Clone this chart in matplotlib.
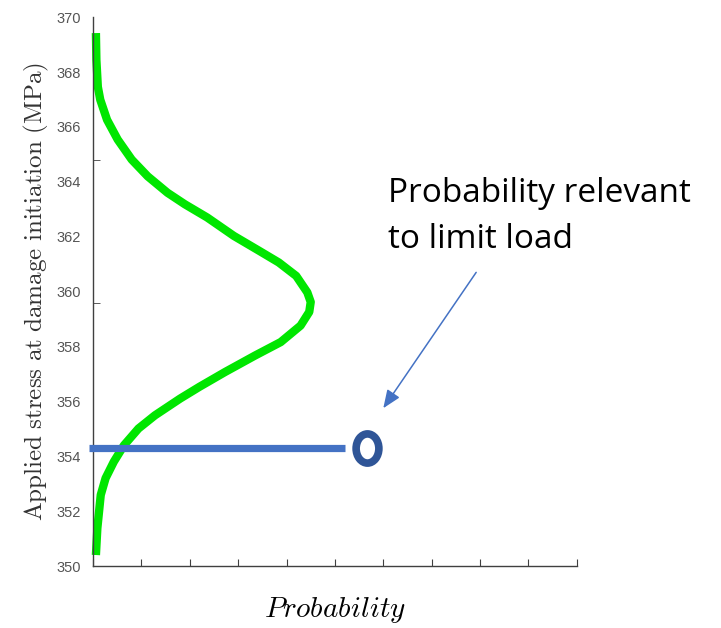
import numpy as np
import matplotlib
matplotlib.use("Agg")
import matplotlib.pyplot as plt
from matplotlib.path import Path

plt.rcParams['mathtext.fontset'] = 'cm'

# curve: stress (MPa) vs probability
stress = [369.42, 368.44, 367.46, 366.99, 366.26, 365.54, 364.81, 364.20, 363.60, 363.18,
          362.70, 362.03, 361.48, 361.06, 360.57, 359.97, 359.62, 359.26, 358.76, 358.16,
          357.67, 357.07, 356.53, 356.10, 355.49, 355.01, 354.40, 353.80, 353.20, 352.59,
          351.38, 350.40]
prob = [0.006, 0.007, 0.010, 0.015, 0.029, 0.051, 0.080, 0.113, 0.154, 0.190,
        0.236, 0.291, 0.344, 0.384, 0.420, 0.443, 0.450, 0.447, 0.429, 0.388,
        0.335, 0.273, 0.220, 0.180, 0.128, 0.094, 0.064, 0.043, 0.026, 0.016,
        0.009, 0.006]

limit_stress = 354.3
limit_x = [-0.008, 0.52]
point_x = 0.567

yticks = list(range(350, 371, 2))
xticks = [i / 10 for i in range(11)]

fig = plt.figure(figsize=(7.21, 6.28), dpi=100)
ax = fig.add_axes([0.129, 0.0987, 0.671, 0.874])

ax.plot(prob, stress, color='#00e600', lw=6, solid_capstyle='butt',
        solid_joinstyle='round', clip_on=False, zorder=2)
ax.plot(limit_x, [limit_stress, limit_stress], color='#4472c4', lw=5.2,
        solid_capstyle='butt', clip_on=False, zorder=3)

circ = Path.unit_circle()
ell = Path(circ.vertices * [0.78, 1.0], circ.codes)
ax.plot([point_x], [limit_stress], marker=ell, markersize=21, mew=5.5,
        mfc='white', mec='#2f5597', ls='none', clip_on=False, zorder=4)

ax.annotate('', xy=(0.60, 355.75), xytext=(0.792, 360.7),
            arrowprops=dict(arrowstyle='-|>,head_length=1.1,head_width=0.45',
                            color='#4472c4', lw=1.1, shrinkA=0, shrinkB=0))

ax.set_xlim(0, 1)
ax.set_ylim(350, 370)
ax.set_yticks(yticks)
ax.set_yticklabels([str(t) for t in yticks])
ax.set_yticks([364.8, 359.6], minor=True)
ax.set_xticks(xticks)
ax.set_xticklabels([])

for s in ['top', 'right']:
    ax.spines[s].set_visible(False)
for s in ['left', 'bottom']:
    ax.spines[s].set_color('#404040')
    ax.spines[s].set_linewidth(1.0)

ax.tick_params(axis='y', which='major', length=0, pad=9, labelsize=10.5,
               labelcolor='#555555', labelfontfamily='Liberation Sans')
ax.tick_params(axis='y', which='minor', direction='in', length=5, color='#404040')
ax.tick_params(axis='x', direction='in', length=5, color='#404040')

fig.text(36 / 721, 1 - 292 / 628,
         r'$\mathrm{Applied\ stress\ at\ damage\ initiation\ (MPa)}$',
         rotation=90, ha='center', va='center', fontsize=18, color='#333333')
fig.text(335 / 721, 1 - 610 / 628, r'$\mathit{Probability}$',
         ha='center', va='center', fontsize=21, color='black')

fig.text(388 / 721, 1 - 202 / 628, 'Probability relevant', fontfamily='Open Sans',
         fontsize=24, ha='left', va='baseline', color='black')
fig.text(388 / 721, 1 - 248 / 628, 'to limit load', fontfamily='Open Sans',
         fontsize=24, ha='left', va='baseline', color='black')

fig.savefig('out.png', dpi=100)
